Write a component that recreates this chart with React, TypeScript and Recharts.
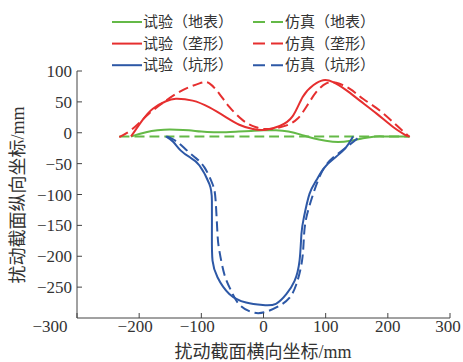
import { Line, LineChart, XAxis, YAxis } from 'recharts'

// Surface / ridge / pit profiles: solid = test, dashed = simulation.
const GREEN = '#64b947'
const RED = '#e62f2f'
const BLUE = '#2d58a6'
const AXIS = '#444'
const TEXT = '#333'
const FONT = '"Liberation Serif", "Noto Sans CJK SC", serif'

const X_TICKS = [-300, -200, -100, 0, 100, 200, 300]
const Y_TICKS = [-250, -200, -150, -100, -50, 0, 50, 100]

// 试验(地表)
const SURF_TEST_X = [-213, -200, -180, -160, -140, -120, -100, -80, -60, -40, -20, 0, 20, 40, 60, 80, 100, 120, 140, 160, 180, 200, 235]
const SURF_TEST_Y = [-6, -2, 3, 5, 5, 4, 2, 1, 1, 2, 3, 4, 4, 2, -3, -9, -13, -15, -13, -9, -6, -6, -6]
// 仿真(地表)
const SURF_SIM_X = [-232, -100, 0, 100, 235]
const SURF_SIM_Y = [-6, -6, -6, -6, -6]

// 试验(垄形)
const RIDGE_TEST_X = [-213, -195, -178, -157, -141, -114, -87, -60, -39, -17, 4, 26, 47, 63, 80, 96, 112, 133, 155, 182, 209, 232]
const RIDGE_TEST_Y = [-6, 20, 39, 51, 55, 52, 41, 25, 13, 6, 5, 11, 27, 58, 77, 85, 82, 69, 52, 31, 9, -6]
// 仿真(垄形)
const RIDGE_SIM_X = [-232, -211, -184, -157, -130, -103, -87, -71, -55, -33, -12, 10, 37, 55, 69, 85, 101, 117, 139, 160, 187, 214, 235]
const RIDGE_SIM_Y = [-7, 6, 31, 52, 69, 80, 80, 63, 42, 20, 9, 6, 12, 23, 42, 66, 80, 81, 71, 55, 36, 12, -7]

// 试验(坑形)
const PIT_TEST_X = [-157, -145, -133, -118, -103, -87, -83, -83, -82, -74, -55, -28, -1, 20, 37, 50, 58, 61, 65, 74, 85, 101, 128, 144]
const PIT_TEST_Y = [-6, -15, -29, -40, -53, -83, -110, -164, -207, -234, -261, -275, -279, -277, -261, -240, -207, -164, -137, -99, -77, -53, -29, -6]
// 仿真(坑形)
const PIT_SIM_X = [-155, -140, -125, -110, -95, -82, -77, -74, -71, -63, -52, -39, -17, 4, 26, 42, 53, 62, 65, 69, 80, 98, 125, 155]
const PIT_SIM_Y = [-6, -14, -27, -40, -56, -83, -110, -164, -191, -229, -256, -278, -291, -290, -280, -267, -245, -207, -169, -137, -99, -56, -30, -6]

type Pt = { x: number; y: number }
const zip = (xs: number[], ys: number[]): Pt[] => xs.map((x, i) => ({ x, y: ys[i] }))

const SERIES = [
  { name: '试验（地表）', color: GREEN, dashed: false, data: zip(SURF_TEST_X, SURF_TEST_Y) },
  { name: '仿真（地表）', color: GREEN, dashed: true, data: zip(SURF_SIM_X, SURF_SIM_Y) },
  { name: '试验（垄形）', color: RED, dashed: false, data: zip(RIDGE_TEST_X, RIDGE_TEST_Y) },
  { name: '仿真（垄形）', color: RED, dashed: true, data: zip(RIDGE_SIM_X, RIDGE_SIM_Y) },
  { name: '试验（坑形）', color: BLUE, dashed: false, data: zip(PIT_TEST_X, PIT_TEST_Y) },
  { name: '仿真（坑形）', color: BLUE, dashed: true, data: zip(PIT_SIM_X, PIT_SIM_Y) },
]

const minus = (v: number) => String(v).replace('-', '−')

function XTick({ x, y, payload }: { x?: number; y?: number; payload?: { value: number } }) {
  if (x === undefined || y === undefined || !payload) return null
  // the -300 label sits left of the corner in the original; 300 is pulled in a little
  const v = payload.value
  const shift = v === -300 ? -27 : v === 300 ? -2 : v < 0 ? -4 : 0
  return (
    <text x={x + shift} y={y + 19} textAnchor="middle" fontSize={17} fill={TEXT} fontFamily={FONT}>
      {minus(v)}
    </text>
  )
}

function YTick({ x, y, payload }: { x?: number; y?: number; payload?: { value: number } }) {
  if (x === undefined || y === undefined || !payload) return null
  return (
    <text x={x} y={y + 6} textAnchor="end" fontSize={17} fill={TEXT} fontFamily={FONT}>
      {minus(payload.value)}
    </text>
  )
}

// Two-column legend: test on the left, simulation on the right.
function ProfileLegend() {
  const rows = [0, 1, 2]
  return (
    <svg width={463} height={78} style={{ position: 'absolute', left: 0, top: 0 }}>
      {rows.map((r) => {
        const y = 22 + r * 21.6
        const test = SERIES[r * 2]
        const sim = SERIES[r * 2 + 1]
        return (
          <g key={r}>
            <line x1={112} x2={142} y1={y} y2={y} stroke={test.color} strokeWidth={2} />
            <text x={143} y={y + 5} fontSize={15} fill={TEXT} fontFamily={FONT}>{test.name}</text>
            <line x1={253} x2={283} y1={y} y2={y} stroke={sim.color} strokeWidth={2} strokeDasharray="12 6" />
            <text x={285} y={y + 5} fontSize={15} fill={TEXT} fontFamily={FONT}>{sim.name}</text>
          </g>
        )
      })}
    </svg>
  )
}

const labelStyle = {
  position: 'absolute' as const,
  whiteSpace: 'nowrap' as const,
  fontSize: 18,
  color: TEXT,
  fontFamily: FONT,
  lineHeight: 1,
}

export default function App() {
  return (
    <div style={{ position: 'fixed', left: 0, top: 0, width: 463, height: 362, background: '#fff', overflow: 'hidden' }}>
      <LineChart width={463} height={362} margin={{ top: 71, right: 13, bottom: 0, left: 0 }}>
        <XAxis
          type="number"
          dataKey="x"
          domain={[-300, 300]}
          ticks={X_TICKS}
          interval={0}
          allowDataOverflow
          height={44}
          stroke={AXIS}
          tickSize={-5}
          tickMargin={0}
          tick={<XTick />}
        />
        <YAxis
          type="number"
          dataKey="y"
          domain={[-300, 100]}
          ticks={Y_TICKS}
          interval={0}
          allowDataOverflow
          width={77}
          stroke={AXIS}
          tickSize={-5}
          tickMargin={10}
          tick={<YTick />}
        />
        {SERIES.map((s) => (
          <Line
            key={s.name}
            name={s.name}
            data={s.data}
            dataKey="y"
            type="natural"
            stroke={s.color}
            strokeWidth={2}
            strokeDasharray={s.dashed ? '10 5' : undefined}
            dot={false}
            activeDot={false}
            isAnimationActive={false}
          />
        ))}
      </LineChart>
      <ProfileLegend />
      <div style={{ ...labelStyle, left: 18, top: 195, transform: 'translate(-50%, -50%) rotate(-90deg)' }}>
        扰动截面纵向坐标/mm
      </div>
      <div style={{ ...labelStyle, left: 263, top: 352, transform: 'translate(-50%, -50%)' }}>
        扰动截面横向坐标/mm
      </div>
    </div>
  )
}
